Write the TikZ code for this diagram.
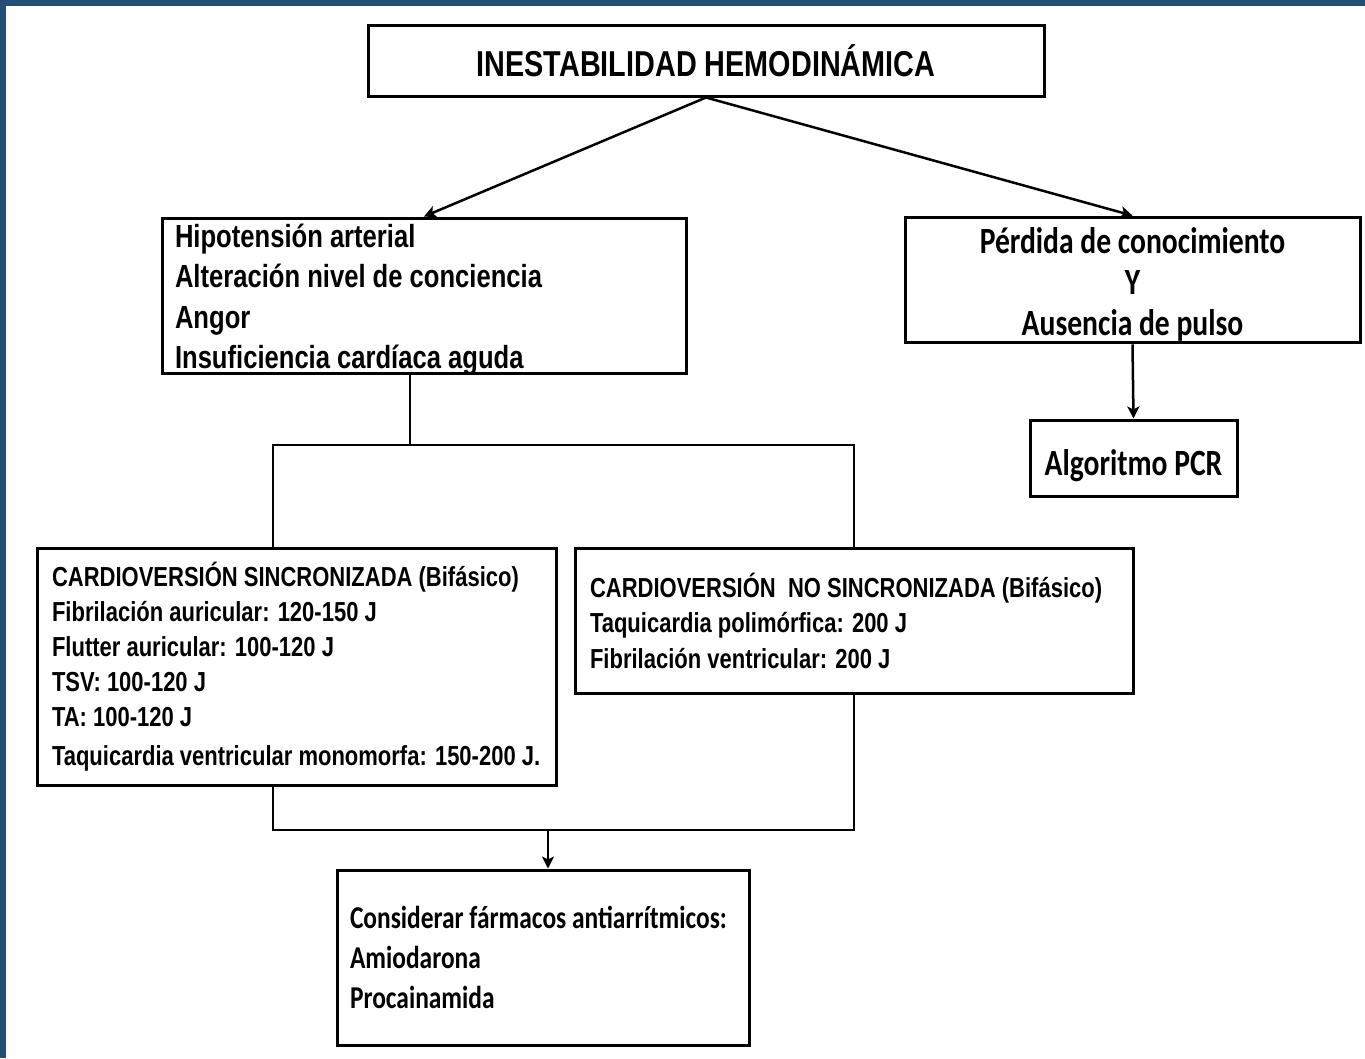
\documentclass[tikz,border=0pt]{standalone}
\usepackage{fontspec}
\setmainfont{Liberation Sans}
\newfontfamily\narrowfont[FakeStretch=0.8]{Liberation Sans}
\newfontfamily\calfont[FakeStretch=0.8]{Carlito}
\usetikzlibrary{arrows.meta}

\definecolor{frameblue}{RGB}{37,78,117}
\newcommand\nohyph{\hyphenpenalty10000\relax}

\tikzset{
  box/.style={draw, line width=3pt, inner ysep=2pt},
  narrowtxt/.style 2 args={font=\narrowfont\bfseries\fontsize{#1}{#2}\selectfont\nohyph},
  caltxt/.style 2 args={font=\calfont\bfseries\fontsize{#1}{#2}\selectfont\nohyph},
  link/.style={line width=2.5pt}
}

\begin{document}
\begin{tikzpicture}[x=1pt, y=-1pt, every path/.style={>={Stealth[length=12pt,width=12pt,inset=3pt]}}]
			\useasboundingbox (0,0) rectangle (1365,1058);
			\fill[white] (0,0) rectangle (1365,1058);
			\fill[frameblue] (0,0) rectangle (1365,6);
			\fill[frameblue] (0,0) rectangle (6,1058);

			\node[box, narrowtxt={36}{40}, minimum width=676, minimum height=71] (inest) at (706,60.5) {INESTABILIDAD HEMODINÁMICA};

			\node[box, narrowtxt={32}{40.5}, align=flush left, text width=498, inner xsep=13, text height=27pt, text depth=124pt, minimum height=155] (hipo) at (424,295.5)
				{Hipotensión arterial\\Alteración nivel de conciencia\\Angor\\Insuficiencia cardíaca aguda};
			\node[box, caltxt={37}{41}, align=flush center, text width=435, inner xsep=10, text height=34pt, minimum height=124] (perdida) at (1132.5,280)
				{Pérdida de conocimiento\\Y\\Ausencia de pulso};
			\node[box, caltxt={37}{41}, text height=34pt, text depth=0pt, minimum width=207, minimum height=76] (pcr) at (1133.5,458) {Algoritmo PCR};

			\node[box, narrowtxt={27.5}{35}, align=flush left, text width=489, inner xsep=15, minimum height=237] (cs) at (296.5,666.5)
				{CARDIOVERSIÓN SINCRONIZADA (Bifásico)\\Fibrilación auricular: 120-150 J\\Flutter auricular: 100-120 J\\TSV: 100-120 J\\TA: 100-120 J\\[4pt]Taquicardia ventricular monomorfa: 150-200 J.};
			\node[box, narrowtxt={27.5}{35.5}, align=flush left, text width=528, inner xsep=15, minimum height=145] (ns) at (854,620.5)
				{CARDIOVERSIÓN\ \ NO SINCRONIZADA (Bifásico)\\Taquicardia polimórfica: 200 J\\Fibrilación ventricular: 200 J};

			\node[box, caltxt={31.8}{40}, align=flush left, text width=386, inner xsep=13, minimum height=175] (drugs) at (543,957.5)
				{Considerar fármacos antiarrítmicos:\\Amiodarona\\Procainamida};

			\coordinate (split) at (410,445);
			\coordinate (csin) at (273,445);
			\coordinate (join) at (548,830);

			\draw[link,->] (inest.south) -- (hipo.north);
			\draw[link,->] (inest.south) -- (perdida.north);
			\draw[link,->] (perdida.south) -- (pcr.north);

			\draw[link] (hipo.south -| split) -- (split);
			\draw[link] (cs.north -| csin) -- (csin) -| (ns.north);
			\draw[link] (cs.south -| csin) -- (csin |- join) -| (ns.south);
			\draw[link,->] (join) -- (join |- drugs.north);
		\end{tikzpicture}
\end{document}
